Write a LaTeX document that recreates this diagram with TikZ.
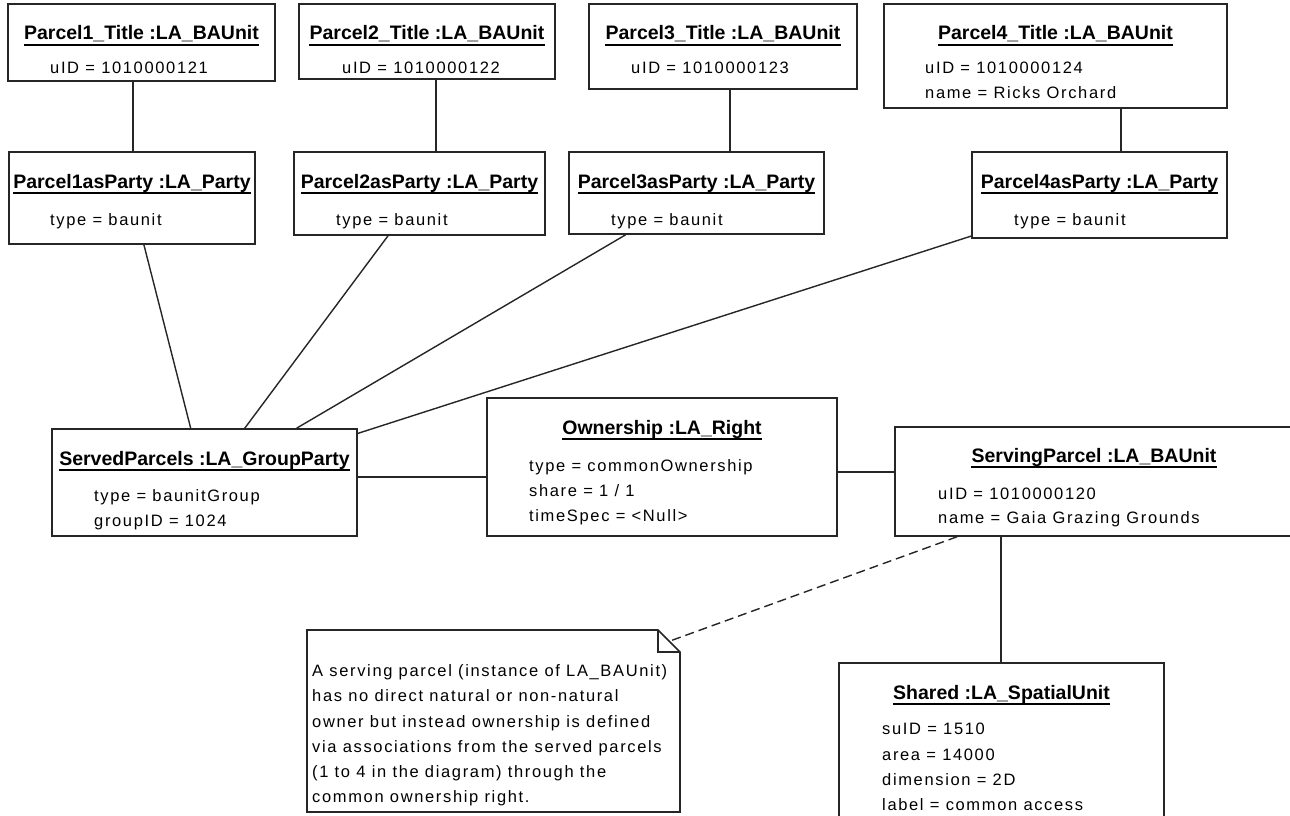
\documentclass[tikz,border=0pt]{standalone}
\usepackage{fontspec}
\setmainfont{Liberation Sans}
\newfontfamily\attrfam{Liberation Sans}[LetterSpace=10]
\usetikzlibrary{calc}
\tikzset{
  box/.style={draw=black!85, line width=1.6pt, fill=white, inner sep=0pt},
  conn/.style={draw=black!85, line width=1.4pt},
  ttl/.style={anchor=base, inner sep=0pt, font=\fontsize{19.5}{22}\selectfont\bfseries},
  attr/.style={anchor=base west, inner sep=0pt, font=\attrfam\fontsize{16.5}{20}\selectfont},
  ulin/.style={line width=1.8pt, draw=black},
  dashconn/.style={conn, dash pattern=on 9pt off 5pt}
}
\newcommand\umlbox[5]{\node[box, minimum width={(#4-#2)*1pt}, minimum height={(#5-#3)*1pt}] (#1) at ({(#2+#4)/2},{(#3+#5)/2}) {};}
\newcommand\umltitle[4]{\node[ttl] (#1) at (#2,#3) {#4};
  \draw[ulin] ($(#1.base west)+(0,5)$) -- ($(#1.base east)+(0,5)$);}
\newcommand\umlattr[4]{\node[attr] (#1) at (#2,#3) {#4};}
\begin{document}
\begin{tikzpicture}[x=1pt,y=-1pt]
\useasboundingbox (0,0) rectangle (1290,816);
\clip (0,0) rectangle (1290,816);
\fill[white] (0,0) rectangle (1290,816);

% boxes
\umlbox{p1t}{8}{4}{275}{81}
\umlbox{p2t}{299}{4}{555}{79}
\umlbox{p3t}{589}{4}{857}{89}
\umlbox{p4t}{884}{4}{1227}{108}
\umlbox{p1p}{9}{152}{255}{244}
\umlbox{p2p}{294}{152}{545}{235}
\umlbox{p3p}{569}{152}{824}{234}
\umlbox{p4p}{972}{152}{1227}{238}
\umlbox{sp}{52}{429}{357}{536}
\umlbox{own}{487}{398}{837}{536}
\umlbox{serv}{895}{427}{1293}{536}
\umlbox{sh}{839}{663}{1164}{830}

% titles
\umltitle{t1}{141.5}{40}{Parcel1\_Title :LA\_BAUnit}
\umltitle{t2}{427}{40}{Parcel2\_Title :LA\_BAUnit}
\umltitle{t3}{723}{40}{Parcel3\_Title :LA\_BAUnit}
\umltitle{t4}{1055.5}{40}{Parcel4\_Title :LA\_BAUnit}
\umltitle{t5}{132}{188}{Parcel1asParty :LA\_Party}
\umltitle{t6}{419.5}{188}{Parcel2asParty :LA\_Party}
\umltitle{t7}{696.5}{188}{Parcel3asParty :LA\_Party}
\umltitle{t8}{1099.5}{188}{Parcel4asParty :LA\_Party}
\umltitle{t9}{204.5}{465}{ServedParcels :LA\_GroupParty}
\umltitle{t10}{662}{434}{Ownership :LA\_Right}
\umltitle{t11}{1094}{462}{ServingParcel :LA\_BAUnit}
\umltitle{t12}{1001.5}{699}{Shared :LA\_SpatialUnit}

% attributes
\umlattr{a1}{50}{74}{uID = 1010000121}
\umlattr{a2}{342}{74}{uID = 1010000122}
\umlattr{a3}{631}{74}{uID = 1010000123}
\umlattr{a4}{925}{74}{uID = 1010000124}
\umlattr{a5}{925}{99}{name = Ricks Orchard}
\umlattr{a6}{50}{225}{type = baunit}
\umlattr{a7}{336}{225}{type = baunit}
\umlattr{a8}{611}{225}{type = baunit}
\umlattr{a9}{1014}{225}{type = baunit}
\umlattr{a10}{94}{501}{type = baunitGroup}
\umlattr{a11}{94}{526}{groupID = 1024}
\umlattr{a12}{529}{471}{type = commonOwnership}
\umlattr{a13}{529}{496}{share = 1 / 1}
\umlattr{a14}{529}{521}{timeSpec = \textless Null\textgreater}
\umlattr{a15}{938}{499}{uID = 1010000120}
\umlattr{a16}{938}{523}{name = Gaia Grazing Grounds}
\umlattr{a17}{882}{734}{suID = 1510}
\umlattr{a18}{882}{760}{area = 14000}
\umlattr{a19}{882}{785}{dimension = 2D}
\umlattr{a20}{882}{810}{label = common access}

% note
\draw[box] (307,630) -- (658,630) -- (680,652) -- (680,812) -- (307,812) -- cycle;
\draw[box, fill=none] (658,630) -- (658,652) -- (680,652);
\node[attr, align=left, anchor=north west, font=\attrfam\fontsize{16.5}{25.2}\selectfont] (note) at (312,664.5)
 {A serving parcel (instance of LA\_BAUnit)\\
  has no direct natural or non-natural\\
  owner but instead ownership is defined\\
  via associations from the served parcels\\
  (1 to 4 in the diagram) through the\\
  common ownership right.};
\coordinate (nc) at (670,641);

% connectors
\coordinate (v1) at (133,0);
\coordinate (v2) at (436,0);
\coordinate (v3) at (730,0);
\coordinate (v4) at (1121,0);
\coordinate (v5) at (1001,0);
\coordinate (d1) at (957,0);
\coordinate (h1) at (0,477);
\coordinate (h2) at (0,472);
\draw[conn] (p1t.south -| v1) -- (p1p.north -| v1);
\draw[conn] (p2t.south -| v2) -- (p2p.north -| v2);
\draw[conn] (p3t.south -| v3) -- (p3p.north -| v3);
\draw[conn] (p4t.south -| v4) -- (p4p.north -| v4);
\draw[conn] (p1p) -- (sp);
\draw[conn] (p2p) -- (sp);
\draw[conn] (p3p) -- (sp);
\draw[conn] (p4p) -- (sp);
\draw[conn] (sp.east |- h1) -- (own.west |- h1);
\draw[conn] (own.east |- h2) -- (serv.west |- h2);
\draw[conn] (serv.south -| v5) -- (sh.north -| v5);
\draw[dashconn] (serv.south -| d1) -- (nc);
\end{tikzpicture}
\end{document}
